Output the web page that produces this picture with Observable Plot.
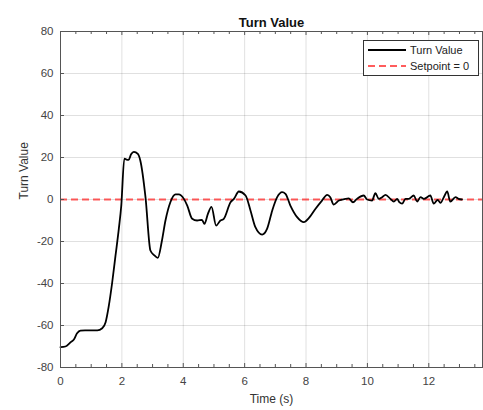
<!DOCTYPE html>
<html>
<head>
<meta charset="utf-8">
<script src="https://cdn.jsdelivr.net/npm/d3@7"></script>
<script src="https://cdn.jsdelivr.net/npm/@observablehq/plot@0.6"></script>
<style>
  html, body { margin: 0; padding: 0; background: #fff; }
  #wrap { position: relative; width: 483px; height: 410px; font-family: "Liberation Sans", Arial, sans-serif; }
  #legend { position: absolute; left: 363px; top: 40px; width: 114px; height: 34px; border: 1px solid #333; background: #fff; font-size: 11px; color: #222; }
  .row { position: absolute; left: 4px; height: 14px; display: flex; align-items: center; }
  .row svg { margin-right: 4px; }
</style>
</head>
<body>
<div id="wrap">
  <div id="chart"></div>
  <div id="legend">
    <div class="row" style="top:2px"><svg width="38" height="4"><line x1="0" y1="2" x2="38" y2="2" stroke="#000" stroke-width="2"/></svg>Turn Value</div>
    <div class="row" style="top:18px"><svg width="38" height="4"><line x1="0" y1="2" x2="38" y2="2" stroke="#ff3333" stroke-opacity="0.8" stroke-width="2" stroke-dasharray="7,4"/></svg>Setpoint = 0</div>
  </div>
</div>
<script>
const time = [0, 0.16, 0.33, 0.43, 0.54, 0.65, 0.8, 1.0, 1.2, 1.36, 1.47, 1.57, 1.68, 1.79, 1.9, 1.98, 2.08, 2.15, 2.22, 2.3, 2.39, 2.52, 2.6, 2.77, 2.93, 3.05, 3.17, 3.3, 3.42, 3.58, 3.75, 3.85, 4.02, 4.13, 4.29, 4.45, 4.61, 4.69, 4.8, 4.92, 5.07, 5.21, 5.32, 5.54, 5.65, 5.81, 6.03, 6.19, 6.35, 6.57, 6.73, 6.9, 7.06, 7.22, 7.33, 7.49, 7.71, 7.93, 8.09, 8.31, 8.52, 8.69, 8.79, 8.9, 9.07, 9.28, 9.39, 9.53, 9.66, 9.88, 9.99, 10.15, 10.26, 10.37, 10.48, 10.59, 10.75, 10.86, 10.97, 11.04, 11.13, 11.24, 11.35, 11.51, 11.62, 11.73, 11.84, 12.05, 12.16, 12.29, 12.38, 12.49, 12.6, 12.7, 12.87, 12.97, 13.08];
const turnValue = [-70.3, -70, -68, -66.8, -63.7, -62.4, -62.3, -62.3, -62.3, -61.3, -58.4, -51, -40, -27, -14, -3, 19.5, 19, 18.9, 21.5, 22.7, 21.7, 18.6, 1, -24.3, -26.5, -27.8, -20, -10, -1.3, 2.4, 2.4, 0.3, -2.9, -9.2, -10, -9.7, -11.6, -7, -3.5, -12.4, -10, -9.2, -1.3, 0.3, 3.8, 1.9, -5.2, -13.2, -16.7, -14, -5.2, 1.1, 3.5, 2.7, -2.9, -8.4, -10.8, -8.9, -4.4, -0.5, 2.2, 1.1, -2.4, -0.5, 0.3, 0.5, -1.3, 0.3, 1.9, 0, -0.5, 3, 0.3, 1.1, 2.2, 0.3, -1, 0.3, -1.3, -2, 0.3, 0.3, 1.9, -1, 1.1, 0.3, 1.9, -2, -0.2, -1.6, 1.1, 3.8, -1, 1.1, 0.3, 0];
const setpoint = [0];
const xTicks = [0, 2, 4, 6, 8, 10, 12];
const xMinorTicks = [0.5, 1, 1.5, 2.5, 3, 3.5, 4.5, 5, 5.5, 6.5, 7, 7.5, 8.5, 9, 9.5, 10.5, 11, 11.5, 12.5, 13, 13.5];
const yTicks = [-80, -60, -40, -20, 0, 20, 40, 60, 80];
const titleText = ["Turn Value"];
const xLabel = ["Time (s)"];
const yLabel = ["Turn Value"];

const data = time.map((t, i) => ({t, v: turnValue[i]}));

const W = 483, H = 410, mL = 60, mR = 1, mT = 31, mB = 43;
const pw = W - mL - mR, ph = H - mT - mB;
const axisColor = "#555";
const fmt = d => String(d);

const chart = Plot.plot({
  width: W, height: H,
  marginLeft: mL, marginRight: mR, marginTop: mT, marginBottom: mB,
  style: {fontFamily: "'Liberation Sans', Arial, sans-serif", fontSize: "11px", background: "#fff"},
  x: {domain: [0, 13.75], ticks: xTicks},
  y: {domain: [-80, 80], ticks: yTicks},
  marks: [
    Plot.gridX(xTicks, {stroke: "#000", strokeOpacity: 0.12}),
    Plot.gridY(yTicks, {stroke: "#000", strokeOpacity: 0.12}),
    Plot.ruleY(setpoint, {stroke: "#ff3333", strokeOpacity: 0.8, strokeWidth: 2, strokeDasharray: "7,4"}),
    Plot.line(data, {x: "t", y: "v", stroke: "#000", strokeWidth: 1.8, curve: "monotone-x"}),
    Plot.frame({stroke: axisColor}),
    Plot.tickX(xTicks, {x: d => d, stroke: axisColor, insetTop: ph - 4}),
    Plot.tickX(xMinorTicks, {x: d => d, stroke: axisColor, insetTop: ph - 3}),
    Plot.tickX(xTicks, {x: d => d, stroke: axisColor, insetBottom: ph - 4}),
    Plot.tickX(xMinorTicks, {x: d => d, stroke: axisColor, insetBottom: ph - 3}),
    Plot.tickY(yTicks, {y: d => d, stroke: axisColor, insetRight: pw - 4}),
    Plot.axisX(xTicks, {tickSize: 0, tickPadding: 9, label: null, fill: "#444", fontSize: 11.5, tickFormat: fmt}),
    Plot.axisY(yTicks, {tickSize: 0, tickPadding: 7, label: null, fill: "#444", fontSize: 11.5, tickFormat: fmt}),
    Plot.text(titleText, {frameAnchor: "top", dy: -14, fontWeight: "bold", fontSize: 13, fill: "#111"}),
    Plot.text(xLabel, {frameAnchor: "bottom", dy: 35, fontSize: 12, fill: "#333"}),
    Plot.text(yLabel, {frameAnchor: "left", dx: -36, rotate: -90, fontSize: 12, fill: "#333"})
  ]
});
document.getElementById("chart").appendChild(chart);
</script>
</body>
</html>
